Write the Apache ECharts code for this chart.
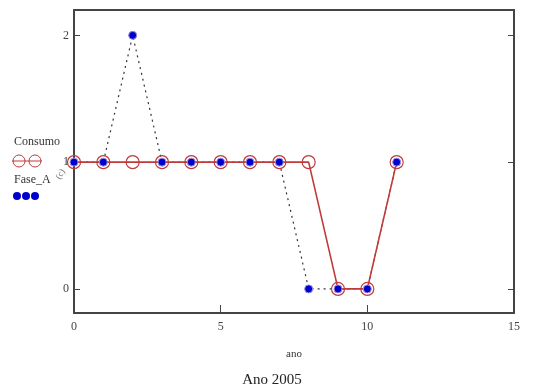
<!DOCTYPE html>
<html>
<head>
<meta charset="utf-8">
<script src="https://cdn.jsdelivr.net/npm/echarts@6/dist/echarts.min.js"></script>
<style>
html,body{margin:0;padding:0;background:#fff;}
#main{width:544px;height:389px;}
</style>
</head>
<body>
<div id="main"></div>
<script>
// dados
var anos = [0, 1, 2, 3, 4, 5, 6, 7, 8, 9, 10, 11];
var consumo = [1, 1, 1, 1, 1, 1, 1, 1, 1, 0, 0, 1];
var faseA = [1, 1, 2, 1, 1, 1, 1, 1, 0, 0, 0, 1];
var xTicks = [0, 5, 10, 15];
var yTicks = [0, 1, 2];

function pares(xs, ys) {
	var out = [];
	for (var i = 0; i < xs.length; i++) {
		out.push([xs[i], ys[i]]);
	}
	return out;
}

var fonte = '"Liberation Serif", "DejaVu Serif", serif';
var corEixo = '#444';

var chart = echarts.init(document.getElementById('main'));
var option = {
	animation: false,
	backgroundColor: '#fff',
	title: {
		text: 'Ano 2005',
		left: 'center',
		top: 368,
		textStyle: {fontFamily: fonte, fontSize: 15, fontWeight: 'normal', color: '#222'}
	},
	grid: {left: 74, right: 30, top: 10, bottom: 76},
	xAxis: [{
		type: 'value',
		min: 0,
		max: 15,
		interval: 5,
		name: 'ano',
		nameLocation: 'middle',
		nameGap: 36,
		nameTextStyle: {fontFamily: fonte, fontSize: 11, color: '#333'},
		axisLine: {onZero: false, lineStyle: {color: corEixo, width: 2}},
		axisTick: {inside: true, length: 8, lineStyle: {color: corEixo}},
		axisLabel: {fontFamily: fonte, fontSize: 12, color: '#444', margin: 8,
			customValues: xTicks},
		splitLine: {show: false}
	}, {
		type: 'value',
		position: 'top',
		min: 0,
		max: 15,
		axisLine: {show: true, onZero: false, lineStyle: {color: corEixo, width: 2}},
		axisTick: {show: false},
		axisLabel: {show: false},
		splitLine: {show: false}
	}],
	yAxis: [{
		type: 'value',
		min: -0.19,
		max: 2.2,
		axisLine: {show: true, onZero: false, lineStyle: {color: corEixo, width: 2}},
		axisTick: {show: true, inside: true, length: 6, customValues: yTicks, lineStyle: {color: corEixo}},
		axisLabel: {fontFamily: fonte, fontSize: 12, color: '#444', margin: 5, customValues: yTicks},
		splitLine: {show: false}
	}, {
		type: 'value',
		position: 'right',
		min: -0.19,
		max: 2.2,
		axisLine: {show: true, onZero: false, lineStyle: {color: corEixo, width: 2}},
		axisTick: {show: true, inside: true, length: 6, customValues: yTicks, lineStyle: {color: corEixo}},
		axisLabel: {show: false},
		splitLine: {show: false}
	}],
	graphic: [
		{type: 'text', left: 14, top: 136, style: {text: 'Consumo', fontFamily: fonte, fontSize: 12, fill: '#333'}},
		{type: 'line', shape: {x1: 12, y1: 161, x2: 42, y2: 161}, style: {stroke: '#c03a3a', lineWidth: 1}},
		{type: 'circle', shape: {cx: 19, cy: 161, r: 6}, style: {fill: 'none', stroke: '#c03a3a', lineWidth: 1}},
		{type: 'circle', shape: {cx: 35, cy: 161, r: 6}, style: {fill: 'none', stroke: '#c03a3a', lineWidth: 1}},
		{type: 'text', left: 14, top: 174, style: {text: 'Fase_A', fontFamily: fonte, fontSize: 12, fill: '#333'}},
		{type: 'circle', shape: {cx: 17, cy: 196, r: 4}, style: {fill: '#0000cc'}},
		{type: 'circle', shape: {cx: 26, cy: 196, r: 4}, style: {fill: '#0000cc'}},
		{type: 'circle', shape: {cx: 35, cy: 196, r: 4}, style: {fill: '#0000cc'}},
		{type: 'text', x: 54, y: 176, rotation: 1.0, style: {text: '(c)', fontFamily: fonte, fontSize: 9, fill: '#666'}}
	],
	series: [{
		// linha pontilhada da Fase_A (por baixo)
		name: 'Fase_A',
		type: 'line',
		data: pares(anos, faseA),
		showSymbol: false,
		symbol: 'none',
		lineStyle: {color: '#333', width: 1.2, type: [2, 4]},
		z: 1
	}, {
		name: 'Consumo',
		type: 'line',
		data: pares(anos, consumo),
		symbol: 'circle',
		symbolSize: 13,
		itemStyle: {color: 'rgba(0,0,0,0)', borderColor: '#c03a3a', borderWidth: 1.2},
		lineStyle: {color: '#c03a3a', width: 1.6},
		z: 2
	}, {
		// marcadores da Fase_A (por cima)
		name: 'Fase_A',
		type: 'scatter',
		data: pares(anos, faseA),
		symbol: 'circle',
		symbolSize: 8,
		itemStyle: {color: '#0000cc', borderColor: '#9a8ee0', borderWidth: 1, opacity: 1},
		z: 3
	}]
};
chart.setOption(option);
</script>
</body>
</html>
